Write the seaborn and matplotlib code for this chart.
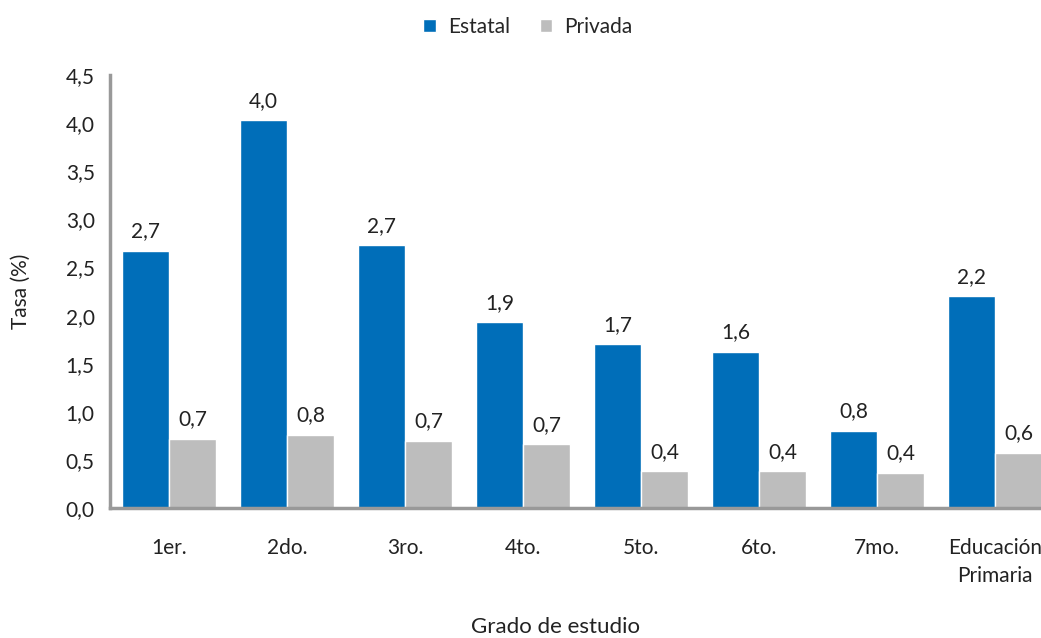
import matplotlib
matplotlib.use("Agg")
import numpy as np
import pandas as pd
import seaborn as sns
import matplotlib.pyplot as plt
from matplotlib.ticker import FixedLocator

grados = ["1er.", "2do.", "3ro.", "4to.", "5to.", "6to.", "7mo.", "Educación\nPrimaria"]
estatal = [2.67, 4.03, 2.73, 1.93, 1.70, 1.62, 0.80, 2.20]
privada = [0.72, 0.76, 0.70, 0.66, 0.38, 0.38, 0.36, 0.57]
etiquetas_estatal = ["2,7", "4,0", "2,7", "1,9", "1,7", "1,6", "0,8", "2,2"]
etiquetas_privada = ["0,7", "0,8", "0,7", "0,7", "0,4", "0,4", "0,4", "0,6"]

df = pd.DataFrame({
    "Grado": grados * 2,
    "Tasa": estatal + privada,
    "Sector": ["Estatal"] * len(grados) + ["Privada"] * len(grados),
})

sns.set_style("white")
plt.rcParams["font.family"] = ["Lato", "DejaVu Sans"]

fs = 15
txt = "#222222"

fig = plt.figure(figsize=(10.41, 6.38), dpi=100)
ax = fig.add_axes([0.1057, 0.204, 0.907, 0.678])

sns.barplot(data=df, x="Grado", y="Tasa", hue="Sector",
            palette={"Estatal": "#006EB9", "Privada": "#BDBDBD"},
            width=0.8, saturation=1, ax=ax, legend=True)

# data labels
for cont, labels in zip(ax.containers, [etiquetas_estatal, etiquetas_privada]):
    ax.bar_label(cont, labels=labels, padding=7, fontsize=fs, color=txt)

ax.set_ylim(0, 4.5)
ax.set_xlim(-0.5, len(grados) - 0.5)
ax.set_yticks(np.arange(0, 4.51, 0.5))
ax.set_yticklabels([f"{v:.1f}".replace(".", ",") for v in np.arange(0, 4.51, 0.5)])

ax.tick_params(axis="y", which="major", length=6, width=2, color="#999999",
               labelsize=fs, labelcolor=txt, pad=5)
ax.tick_params(axis="x", which="major", length=0, labelsize=fs,
               labelcolor=txt, pad=22)
for lab in ax.get_xticklabels():
    lab.set_linespacing(1.45)
ax.xaxis.set_minor_locator(FixedLocator(np.arange(-0.5, len(grados), 1.0)))
ax.tick_params(axis="x", which="minor", length=6, width=2, color="#999999")

for side in ["top", "right"]:
    ax.spines[side].set_visible(False)
for side in ["left", "bottom"]:
    ax.spines[side].set_color("#999999")
    ax.spines[side].set_linewidth(2.5)

ax.set_ylabel("Tasa (%)", fontsize=fs, color=txt)
ax.yaxis.set_label_coords(-0.084, 0.5)
ax.set_xlabel("Grado de estudio", fontsize=16, color=txt)
ax.xaxis.set_label_coords(0.472, -0.252)

ax.get_legend().remove()
handles, labels = ax.get_legend_handles_labels()
fig.legend(handles, labels, loc="center", bbox_to_anchor=(528 / 1041, 1 - 27 / 638),
           ncol=2, frameon=False, fontsize=fs, handlelength=0.6, handleheight=0.6,
           columnspacing=1.4, handletextpad=0.6)

fig.savefig("out.png", dpi=100)
